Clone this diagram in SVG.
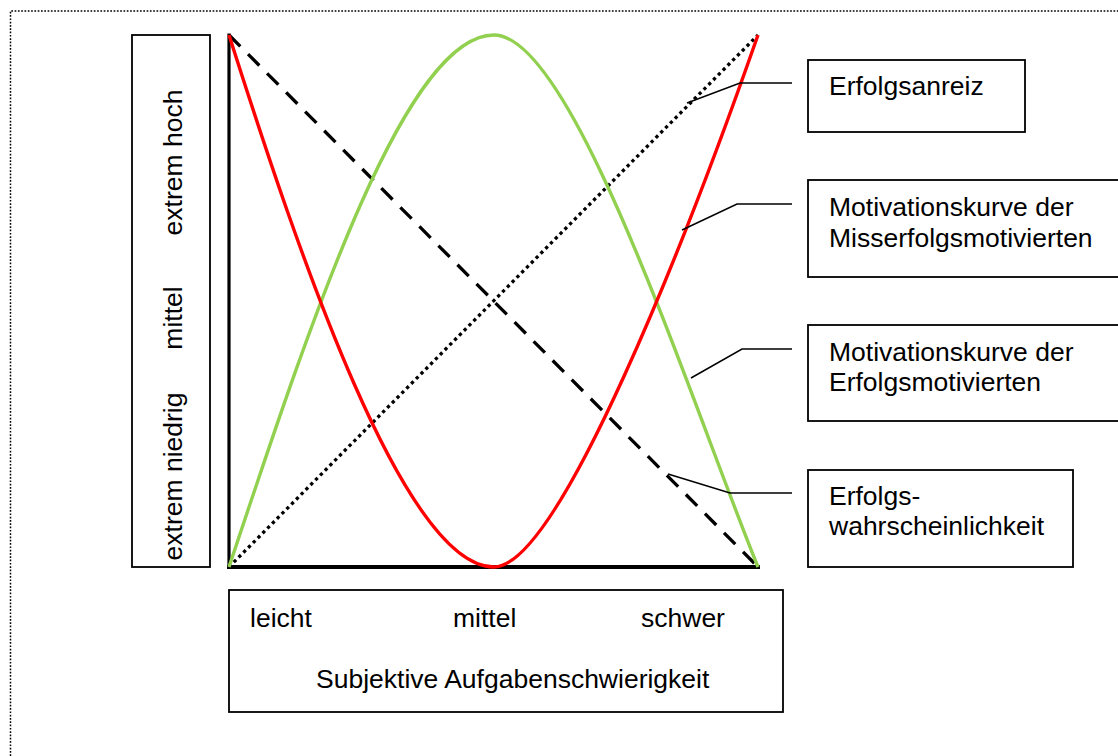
<svg xmlns="http://www.w3.org/2000/svg" width="1118" height="756" viewBox="0 0 1118 756">
  <style>
    text { font-family: "Liberation Sans", Arial, sans-serif; font-size: 26.5px; fill: #000; }
    .box { fill: #fff; stroke: #000; stroke-width: 1.8; }
    .leader { fill: none; stroke: #000; stroke-width: 1.5; }
    .axis { fill: none; stroke: #000; stroke-linecap: square; }
  </style>

  <!-- page frame (dotted) -->
  <path d="M10.5,756 L10.5,11 L1118,11" fill="none" stroke="#000" stroke-width="1.5" stroke-dasharray="1.7 1.6"/>

  <!-- plot area -->
  <g id="plot">
    <line class="axis" x1="229" y1="35" x2="229" y2="567" stroke-width="3.2"/>
    <line class="axis" x1="229" y1="567" x2="758" y2="567" stroke-width="4"/>
    <!-- success probability (dashed) -->
    <line id="wahrscheinlichkeit" x1="229" y1="35" x2="758" y2="567" stroke="#000" stroke-width="3.3" stroke-dasharray="16 11"/>
    <!-- success incentive (dotted) -->
    <line id="anreiz" x1="229" y1="567" x2="758" y2="35" stroke="#000" stroke-width="3.3" stroke-dasharray="3.3 3.5"/>
    <!-- motivation of success-motivated -->
    <path id="kurve-erfolg" d="M229,567 C309,327 404,35 494,35 C574,35 690,400 758,567" fill="none" stroke="#92D050" stroke-width="3.4"/>
    <!-- motivation of failure-motivated -->
    <path id="kurve-misserfolg" d="M229,35 C299,255 404,567 494,567 C559,567 688,235 758,35" fill="none" stroke="#FF0000" stroke-width="3.4"/>
  </g>

  <!-- y-axis label box -->
  <g id="y-achse">
    <rect class="box" x="132" y="35" width="78" height="532"/>
    <text transform="translate(182,162.5) rotate(-90)" text-anchor="middle">extrem hoch</text>
    <text transform="translate(182,318) rotate(-90)" text-anchor="middle">mittel</text>
    <text transform="translate(182,476.5) rotate(-90)" text-anchor="middle">extrem niedrig</text>
  </g>

  <!-- x-axis label box -->
  <g id="x-achse">
    <rect class="box" x="229" y="590" width="554" height="122"/>
    <text x="250" y="627">leicht</text>
    <text x="453" y="627">mittel</text>
    <text x="641" y="627">schwer</text>
    <text x="316" y="688">Subjektive Aufgabenschwierigkeit</text>
  </g>

  <!-- legend boxes -->
  <g id="legende-anreiz">
    <rect class="box" x="808" y="60" width="217" height="72"/>
    <text x="829" y="95">Erfolgsanreiz</text>
  </g>
  <g id="legende-misserfolg">
    <rect class="box" x="808" y="180" width="318" height="97"/>
    <text x="829" y="216">Motivationskurve der</text>
    <text x="829" y="247">Misserfolgsmotivierten</text>
  </g>
  <g id="legende-erfolg">
    <rect class="box" x="808" y="325" width="318" height="96"/>
    <text x="829" y="361">Motivationskurve der</text>
    <text x="829" y="391">Erfolgsmotivierten</text>
  </g>
  <g id="legende-wahrscheinlichkeit">
    <rect class="box" x="808" y="470" width="265" height="97"/>
    <text x="829" y="505">Erfolgs-</text>
    <text x="829" y="535">wahrscheinlichkeit</text>
  </g>

  <!-- leader lines -->
  <g id="connectors">
    <path class="leader" d="M792,83 L740,83 L687,103"/>
    <path class="leader" d="M792,204 L737,204 L682,230"/>
    <path class="leader" d="M792,349 L742,349 L691,378"/>
    <path class="leader" d="M792,493 L730,493 L668,474"/>
  </g>
</svg>
